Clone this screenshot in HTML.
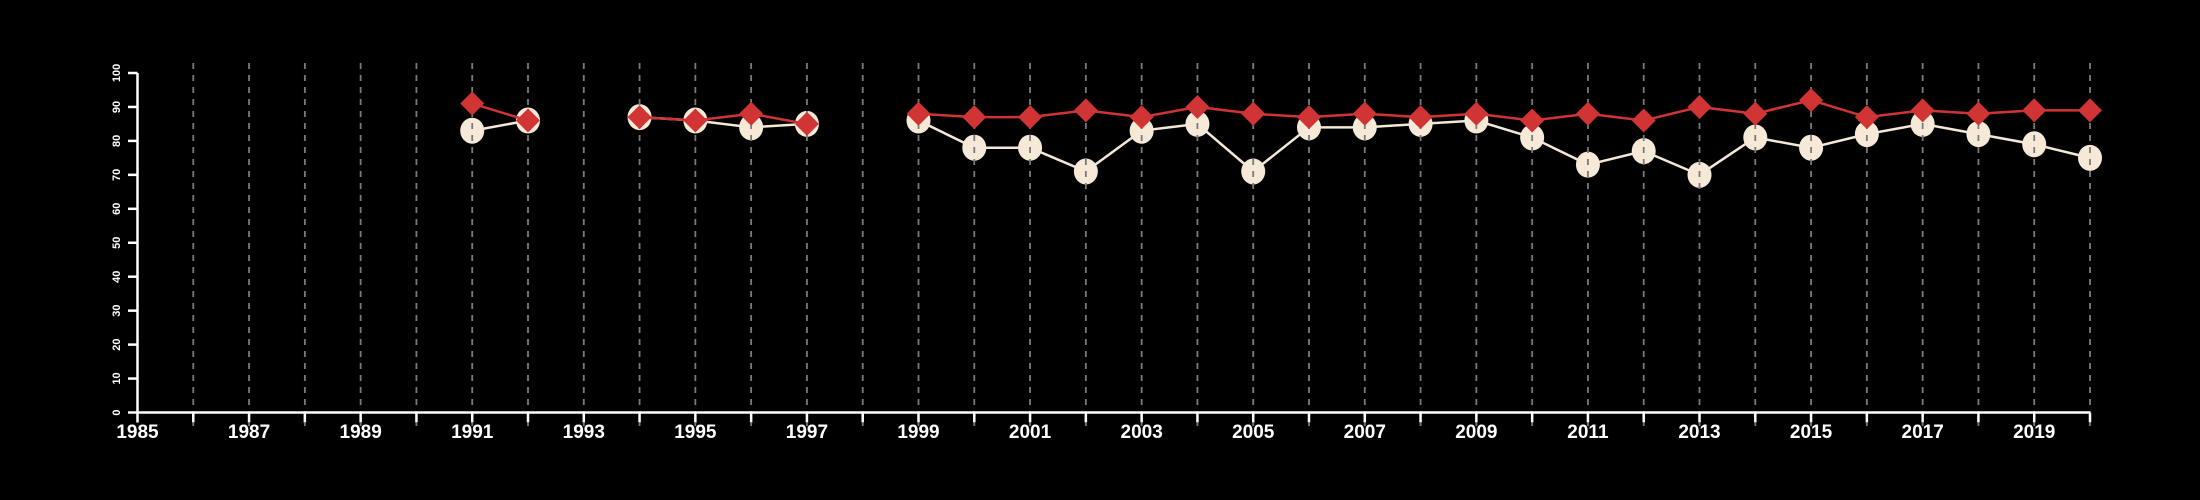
<!DOCTYPE html>
<html><head><meta charset="utf-8"><style>
html,body{margin:0;padding:0;background:#000;}
svg{display:block;font-family:"Liberation Sans",sans-serif;}
</style></head><body>
<svg id="chart" width="2200" height="500" viewBox="0 0 2200 500" xmlns="http://www.w3.org/2000/svg">
<rect width="2200" height="500" fill="#000"/>
<g id="whiteG"></g>
<g id="grid"></g>
<g id="redG"></g>
<g id="axes"></g>
</svg>
<script>
const years = [1991,1992,1993,1994,1995,1996,1997,1998,1999,2000,2001,2002,2003,2004,2005,2006,2007,2008,2009,2010,2011,2012,2013,2014,2015,2016,2017,2018,2019,2020];
const redValues = [91,86,null,87,86,88,85,null,88,87,87,89,87,90,88,87,88,87,88,86,88,86,90,88,92,87,89,88,89,89];
const whiteValues = [83,86,null,87,86,84,85,null,86,78,78,71,83,85,71,84,84,85,86,81,73,77,70,81,78,82,85,82,79,75];
const yTicks = [0,10,20,30,40,50,60,70,80,90,100];
const xLabels = [1985,1987,1989,1991,1993,1995,1997,1999,2001,2003,2005,2007,2009,2011,2013,2015,2017,2019];
const xMin = 1985, xMax = 2020;

const NS = "http://www.w3.org/2000/svg";
const X = y => 137.5 + (y - xMin) * (2090 - 137.5) / (xMax - xMin);
const Y = v => 412.5 - v * (412.5 - 73) / 100;
function mk(tag, attrs, parent){const e=document.createElementNS(NS,tag);for(const k in attrs)e.setAttribute(k,attrs[k]);parent.appendChild(e);return e;}

function drawLines(vals, color, g){
  let seg=[];
  const flush=()=>{ if(seg.length>1){const p=mk('polyline',{points:seg.join(' '),fill:'none',stroke:color,'stroke-width':2.5},g);
    
    } seg=[]; };
  years.forEach((yr,i)=>{ if(vals[i]==null){flush();} else seg.push(X(yr)+','+Y(vals[i])); });
  flush();
}
const wg=document.getElementById('whiteG');
drawLines(whiteValues,'#f5e8d6',wg);
years.forEach((yr,i)=>{ if(whiteValues[i]==null)return;
  const c=mk('ellipse',{cx:X(yr),cy:Y(whiteValues[i]),rx:12,ry:13,fill:'#f7e9d7'},wg);
  
  
});
const gg=document.getElementById('grid');
for(let yr=1986; yr<=2020; yr++){
  const l=mk('line',{x1:X(yr),x2:X(yr),y1:63,y2:426,stroke:'#7a7a7a','stroke-width':1.8,'stroke-dasharray':'6,6'},gg);
  
  
}
const rg=document.getElementById('redG');
drawLines(redValues,'#d03434',rg);
years.forEach((yr,i)=>{ if(redValues[i]==null)return;
  const x=X(yr), y=Y(redValues[i]), s=12;
  const d=mk('polygon',{points:`${x},${y-s} ${x+s},${y} ${x},${y+s} ${x-s},${y}`,fill:'#d03434'},rg);
  
  
});
const ag=document.getElementById('axes');
const ya=mk('line',{x1:137.5,x2:137.5,y1:Y(100),y2:Y(0),stroke:'#fff','stroke-width':2.5},ag);


yTicks.forEach(v=>{
  const t=mk('line',{x1:128,x2:137.5,y1:Y(v),y2:Y(v),stroke:'#fff','stroke-width':2.5},ag);
  
  
  const tx=mk('text',{x:0,y:0,transform:`translate(120,${Y(v)}) rotate(-90)`,fill:'#fff','font-size':11,'font-weight':'bold','text-anchor':'middle'},ag);
  tx.textContent=v;
  
  
});
const xa=mk('line',{x1:X(xMin),x2:X(xMax),y1:Y(0),y2:Y(0),stroke:'#fff','stroke-width':2.5},ag);


for(let yr=xMin; yr<=xMax; yr++){
  const t=mk('line',{x1:X(yr),x2:X(yr),y1:Y(0),y2:Y(0)+10,stroke:'#fff','stroke-width':2.5},ag);
  
  
}
xLabels.forEach(yr=>{
  const tx=mk('text',{x:X(yr),y:438,fill:'#fff','font-size':19,'font-weight':'bold','text-anchor':'middle'},ag);
  tx.textContent=yr;
  
  
});
</script>
</body></html>
